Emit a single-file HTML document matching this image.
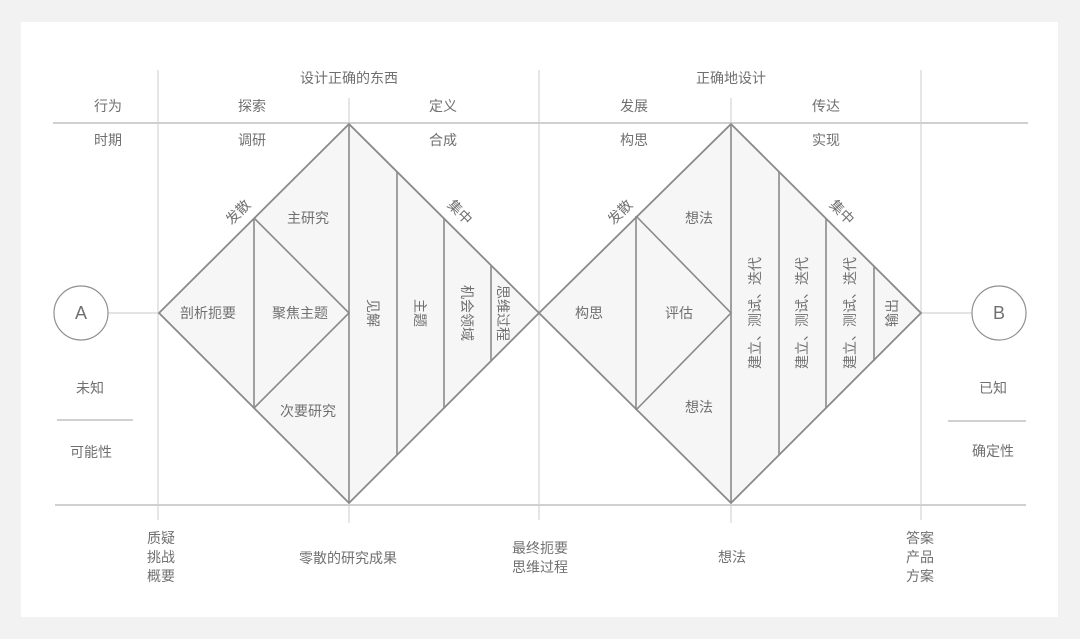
<!DOCTYPE html>
<html><head><meta charset="utf-8"><style>
html,body{margin:0;padding:0;background:#f2f2f2;}
svg{display:block;}
text{font-family:"Liberation Sans","Noto Sans CJK SC",sans-serif;font-size:14px;fill:#707070;}
</style></head><body>
<svg width="1080" height="639" viewBox="0 0 1080 639" xmlns="http://www.w3.org/2000/svg">
<rect x="0" y="0" width="1080" height="639" fill="#f2f2f2"/>
<rect x="21" y="22" width="1037" height="595" fill="#fff"/>
<g stroke="#d4d4d4" stroke-width="1.2" fill="none">
<line x1="158" y1="70" x2="158" y2="520"/>
<line x1="539" y1="70" x2="539" y2="520"/>
<line x1="921" y1="70" x2="921" y2="520"/>
<line x1="349" y1="98" x2="349" y2="523"/>
<line x1="731" y1="98" x2="731" y2="523"/>
<line x1="108" y1="313" x2="159" y2="313"/>
<line x1="921" y1="313" x2="972" y2="313"/>
</g>
<g stroke="#d0d0d0" stroke-width="2">
<line x1="53" y1="123" x2="1028" y2="123"/>
<line x1="55" y1="505" x2="1026" y2="505"/>
<line x1="57" y1="420" x2="133" y2="420"/>
<line x1="948" y1="421" x2="1026" y2="421"/>
</g>
<g stroke="#8a8a8a" stroke-width="1.8" fill="#f6f6f6" stroke-linejoin="miter">
<polygon points="159,313 349,124 539,313 349,503"/>
<polygon points="539,313 731,124 921,313 731,503"/>
</g>
<g stroke="#8a8a8a" stroke-width="1.6" fill="none">
<polyline points="254,218 349,313 254,408"/>
<line x1="254" y1="218" x2="254" y2="408"/>
<line x1="349" y1="124" x2="349" y2="503"/>
<line x1="397" y1="172" x2="397" y2="455"/>
<line x1="444" y1="219" x2="444" y2="408"/>
<line x1="491" y1="266" x2="491" y2="361"/>
<polyline points="636,216 731,313 636,410"/>
<line x1="636" y1="216" x2="636" y2="410"/>
<line x1="731" y1="124" x2="731" y2="503"/>
<line x1="779" y1="172" x2="779" y2="455"/>
<line x1="826" y1="219" x2="826" y2="408"/>
<line x1="874" y1="266" x2="874" y2="361"/>
</g>
<g stroke="#909090" stroke-width="1.2" fill="#fff">
<circle cx="81" cy="313" r="27"/>
<circle cx="999" cy="313" r="27"/>
</g>
<g text-anchor="middle" dominant-baseline="central">
<text x="81" y="313" style="font-size:18px">A</text>
<text x="999" y="313" style="font-size:18px">B</text>
<text x="349" y="78">设计正确的东西</text>
<text x="731" y="78">正确地设计</text>
<text x="108" y="106">行为</text>
<text x="252" y="106">探索</text>
<text x="443" y="106">定义</text>
<text x="634" y="106">发展</text>
<text x="826" y="106">传达</text>
<text x="108" y="140">时期</text>
<text x="252" y="140">调研</text>
<text x="443" y="140">合成</text>
<text x="634" y="140">构思</text>
<text x="826" y="140">实现</text>
<text x="238" y="212" transform="rotate(-45 238 212)">发散</text>
<text x="460" y="212" transform="rotate(45 460 212)">集中</text>
<text x="620" y="212" transform="rotate(-45 620 212)">发散</text>
<text x="842" y="212" transform="rotate(45 842 212)">集中</text>
<text x="308" y="218">主研究</text>
<text x="208" y="313">剖析扼要</text>
<text x="300" y="313">聚焦主题</text>
<text x="308" y="411">次要研究</text>
<text x="373" y="313" transform="rotate(90 373 313)">见解</text>
<text x="420" y="313" transform="rotate(90 420 313)">主题</text>
<text x="467" y="313" transform="rotate(90 467 313)">机会领域</text>
<text x="503" y="313" transform="rotate(90 503 313)">思维过程</text>
<text x="699" y="218">想法</text>
<text x="589" y="313">构思</text>
<text x="679" y="313">评估</text>
<text x="699" y="407">想法</text>
<text x="755" y="313" transform="rotate(-90 755 313)">建立、测试、迭代</text>
<text x="802" y="313" transform="rotate(-90 802 313)">建立、测试、迭代</text>
<text x="850" y="313" transform="rotate(-90 850 313)">建立、测试、迭代</text>
<text x="892" y="313" transform="rotate(-90 892 313)">输出</text>
<text x="90" y="388">未知</text>
<text x="91" y="452">可能性</text>
<text x="993" y="388">已知</text>
<text x="993" y="451">确定性</text>
<text x="161" y="538">质疑</text>
<text x="161" y="557">挑战</text>
<text x="161" y="576">概要</text>
<text x="348" y="558">零散的研究成果</text>
<text x="540" y="548">最终扼要</text>
<text x="540" y="567">思维过程</text>
<text x="732" y="557">想法</text>
<text x="920" y="538">答案</text>
<text x="920" y="557">产品</text>
<text x="920" y="576">方案</text>
</g>
</svg>
</body></html>
